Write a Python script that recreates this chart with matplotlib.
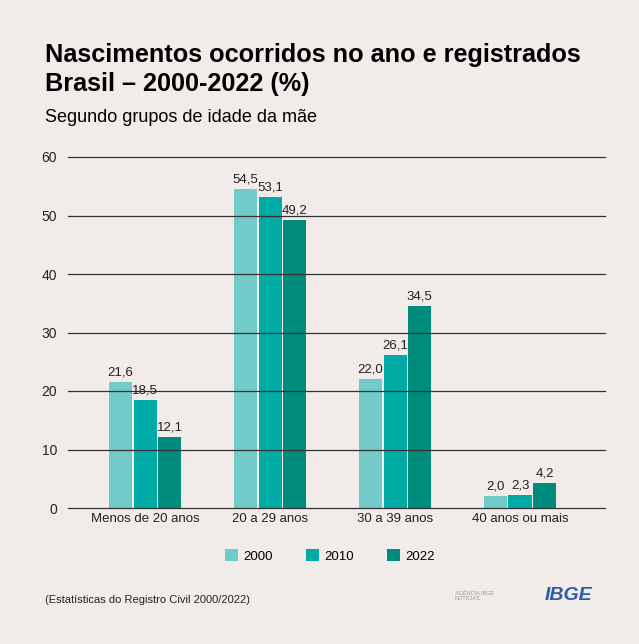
import numpy as np
import matplotlib.pyplot as plt

plt.rcParams['font.family'] = ['Liberation Sans', 'DejaVu Sans']

grupos = ['Menos de 20 anos', '20 a 29 anos', '30 a 39 anos', '40 anos ou mais']
anos = ['2000', '2010', '2022']
v2000 = [21.6, 54.5, 22.0, 2.0]
v2010 = [18.5, 53.1, 26.1, 2.3]
v2022 = [12.1, 49.2, 34.5, 4.2]
cores = ['#72CBC8', '#00ABA5', '#008C7D']

bg = '#F1ECE9'
fig = plt.figure(figsize=(6.39, 6.44), dpi=100, facecolor=bg)
ax = fig.add_axes([68/639, 1-508/644, (605-68)/639, (508-157)/644])
ax.set_facecolor(bg)

x = np.arange(len(grupos))
w = 0.184
off = 0.196
for i, (vals, c, a) in enumerate(zip([v2000, v2010, v2022], cores, anos)):
    pos = x + (i-1)*off
    ax.bar(pos, vals, w, color=c, label=a, zorder=2)
    for p, v in zip(pos, vals):
        ax.text(p, v+0.6, f'{v:.1f}'.replace('.', ','), ha='center', va='bottom',
                fontsize=9.5, color='#222222', zorder=4)

ax.set_ylim(0, 60)
ax.set_xlim(-0.616, 3.68)
ax.set_yticks(range(0, 61, 10))
for yv in range(0, 61, 10):
    ax.axhline(yv, color='#333333', lw=0.9, zorder=3, clip_on=False)
for s in ax.spines.values():
    s.set_visible(False)
ax.tick_params(axis='both', length=0, labelsize=10, colors='#222222')
ax.tick_params(axis='y', pad=8)
ax.set_xticks(x)
ax.set_xticklabels(grupos, fontsize=9.5)

ax.legend(loc='center', bbox_to_anchor=(330/639, 1-556/644), bbox_transform=fig.transFigure,
          ncol=3, frameon=False, fontsize=9.5, handlelength=1.0, handleheight=1.0,
          columnspacing=2.5, handletextpad=0.4)

fig.text(45/639, 1-55/644, 'Nascimentos ocorridos no ano e registrados',
         fontsize=18.2, fontweight='bold', va='center', ha='left')
fig.text(45/639, 1-84/644, 'Brasil – 2000-2022 (%)',
         fontsize=18.2, fontweight='bold', va='center', ha='left')
fig.text(45/639, 1-117/644, 'Segundo grupos de idade da mãe', fontsize=13, va='center', ha='left')
fig.text(45/639, 1-600/644, '(Estatísticas do Registro Civil 2000/2022)', fontsize=8, va='center',
         ha='left', color='#222222')
fig.text(455/639, 1-596/644, 'AGÊNCIA IBGE\nNOTÍCIAS', fontsize=4, color='#999999',
         va='center', ha='left', linespacing=1.0)
fig.text(545/639, 1-596/644, 'IBGE', fontsize=14, fontweight='bold', style='italic',
         color='#2E5AA8', va='center', ha='left')

fig.savefig('out.png', dpi=100, facecolor=bg)
